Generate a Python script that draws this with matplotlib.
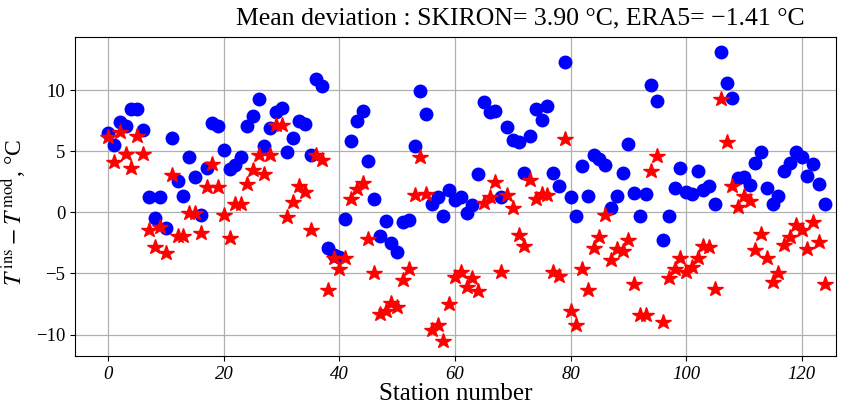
import numpy as np
import matplotlib
matplotlib.use("Agg")
import matplotlib.pyplot as plt

plt.rcParams["font.family"] = ["Liberation Serif", "DejaVu Serif"]
plt.rcParams["mathtext.fontset"] = "stix"

# station index 0..124
estaciones = np.arange(125)

# SKIRON deviation (blue circles)
skiron = [
    6.5, 5.5, 7.36, 7.1, 8.45, 8.45, 6.74, 1.25, -0.5, 1.25,
    -1.28, 6.06, 2.55, 1.3, 4.56, 2.88, -0.19, 3.64, 7.28, 7.09,
    5.1, 3.56, 3.9, 4.5, 7.09, 7.9, 9.3, 5.46, 6.87, 8.2,
    8.5, 4.9, 6.1, 7.5, 7.2, 4.65, 10.9, 10.35, -2.96, -3.5,
    -3.64, -0.52, 5.8, 7.45, 8.3, 4.16, 1.1, -1.96, -0.73, -2.5,
    -3.29, -0.79, -0.6, 5.46, 9.95, 8.04, 0.65, 1.25, -0.3, 1.8,
    1.03, 1.25, -0.05, 0.57, 3.15, 9.0, 8.18, 8.3, 1.25, 6.96,
    5.95, 5.73, 3.2, 6.22, 8.45, 7.55, 8.67, 3.2, 2.15, 12.33,
    1.25, -0.33, 3.78, 1.33, 4.7, 4.37, 3.9, 0.35, 1.3, 3.2,
    5.6, 1.58, -0.3, 1.47, 10.4, 9.07, -2.23, -0.3, 2.0, 3.64,
    1.66, 1.47, 3.37, 1.79, 2.12, 0.65, 13.15, 10.54, 9.35, 2.83,
    2.88, 2.26, 4.02, 4.92, 2.0, 0.7, 1.33, 3.34, 4.02, 4.92,
    4.5, 2.96, 3.97, 2.28, 0.7,
]

# ERA5 deviation (red stars)
era5 = [
    6.2, 4.1, 6.55, 4.78, 3.64, 6.28, 4.73, -1.47, -2.88, -1.2,
    -3.37, 3.07, -1.96, -1.96, -0.05, -0.05, -1.68, 2.1, 3.97, 2.07,
    -0.19, -2.07, 0.65, 0.65, 2.28, 3.42, 4.65, 3.1, 4.65, 7.17,
    7.17, -0.38, 0.84, 2.12, 1.66, -1.41, 4.7, 4.3, -6.36, -3.78,
    -4.67, -3.7, 1.1, 1.93, 2.4, -2.2, -4.95, -8.3, -8.1, -7.45,
    -7.77, -5.54, -4.6, 1.39, 4.5, 1.47, -9.6, -9.2, -10.57, -7.53,
    -5.27, -4.86, -6.09, -5.4, -6.44, 0.76, 1.25, 2.47, -4.86, 1.39,
    0.35, -1.87, -2.77, 2.66, 1.11, 1.52, 1.39, -4.86, -5.2, 6.0,
    -8.1, -9.2, -4.6, -6.36, -2.96, -2.06, -0.24, -3.9, -3.0, -3.15,
    -2.23, -5.9, -8.4, -8.4, 3.37, 4.6, -8.94, -5.4, -4.67, -3.78,
    -4.86, -4.46, -3.7, -2.77, -2.83, -6.3, 9.26, 5.73, 2.15, 0.43,
    1.3, 0.92, -3.1, -1.79, -3.7, -5.68, -5.0, -2.69, -2.0, -1.06,
    -1.47, -3.04, -0.79, -2.42, -5.87,
]

fig = plt.figure(figsize=(8.51, 4.12), dpi=100)
ax = fig.add_axes([0.088, 0.136, 0.894, 0.774])

ax.plot(estaciones, skiron, "o", color="blue", markersize=9, zorder=3)
ax.plot(estaciones, era5, "*", color="red", markersize=11.5, zorder=4)

ax.set_xlim(-5.8, 125.9)
ax.set_xticks([0, 20, 40, 60, 80, 100, 120])
ax.set_yticks([-10, -5, 0, 5, 10])
ax.grid(True, color="#b0b0b0", linewidth=0.9)
ax.set_axisbelow(True)

ax.tick_params(labelsize=13.5)
for lab in ax.get_xticklabels():
    lab.set_fontstyle("italic")

ax.set_xlabel("Station number", fontsize=18, labelpad=0)
ax.set_ylabel(r"$T^{\,\mathrm{ins}} - T^{\,\mathrm{mod}}$, °C", fontsize=17)
ax.yaxis.set_label_coords(-0.062, 0.45)

fig.text(0.612, 0.955,
         "Mean deviation : SKIRON= 3.90 °C, ERA5= −1.41 °C",
         ha="center", va="center", fontsize=18.5)

fig.savefig("out.png", dpi=100)
